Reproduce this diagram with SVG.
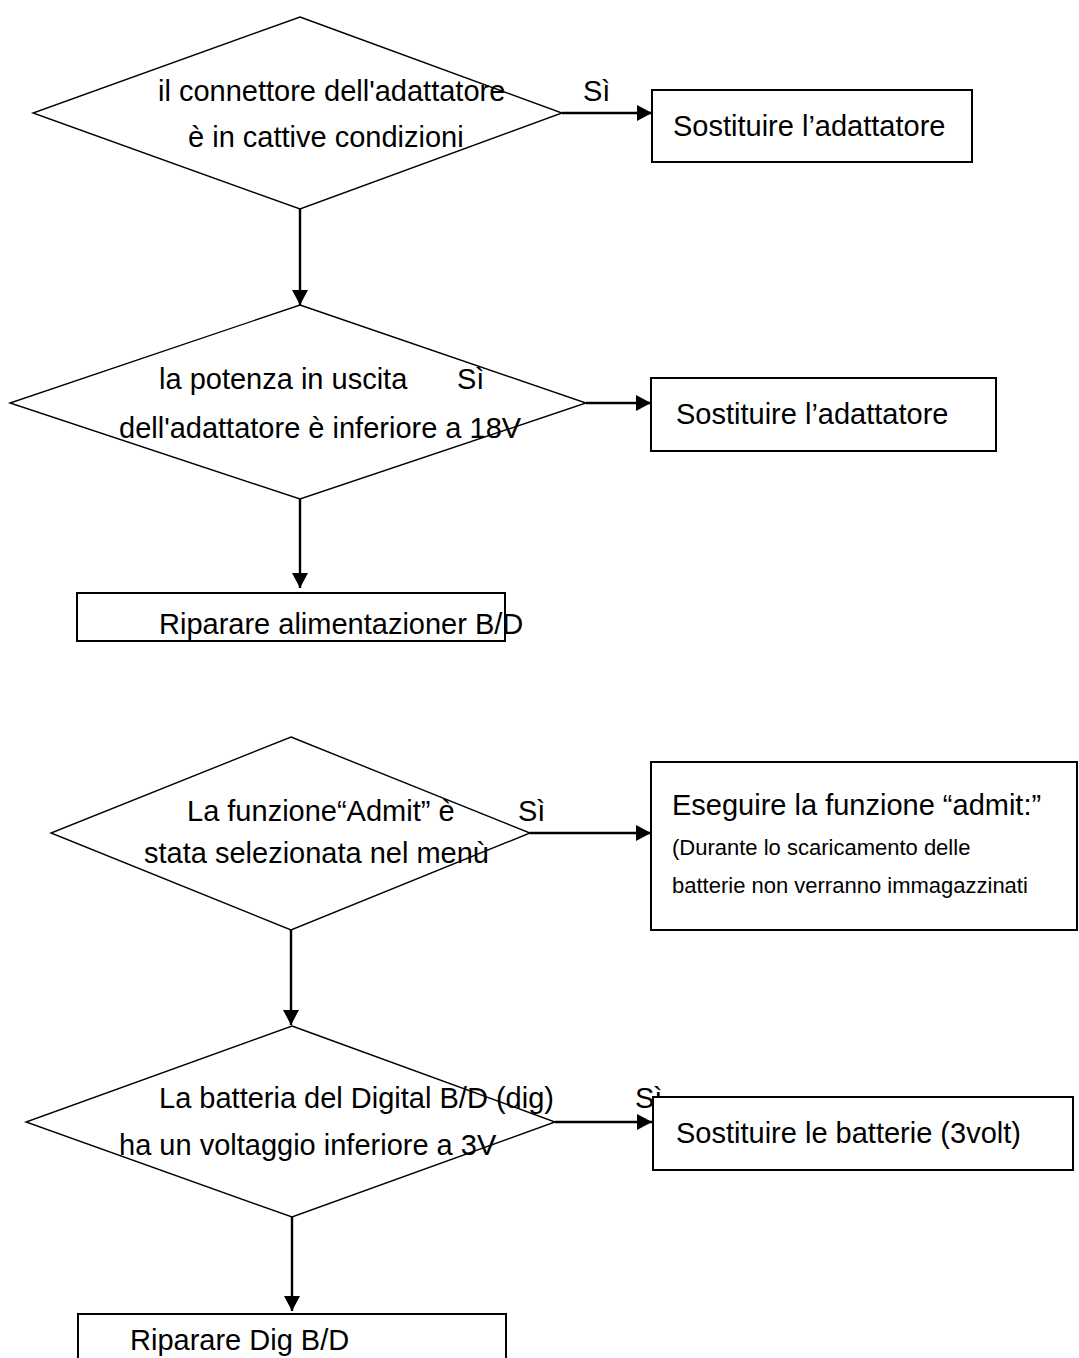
<svg xmlns="http://www.w3.org/2000/svg" width="1079" height="1358" viewBox="0 0 1079 1358">
<style>
  .dia { fill: none; stroke: #000; stroke-width: 1.4; }
  .box { fill: #fff; stroke: #000; stroke-width: 2; }
  .t { font-family: "Liberation Sans", Arial, sans-serif; font-size: 29px; fill: #000; }
  .s { font-family: "Liberation Sans", Arial, sans-serif; font-size: 22px; fill: #000; }
  .c { fill: none; stroke: #000; stroke-width: 2.4; marker-end: url(#ah); }
</style>
<defs>
  <marker id="ah" markerUnits="userSpaceOnUse" markerWidth="15" markerHeight="16" refX="15" refY="8" orient="auto">
    <path d="M0,0 L15,8 L0,16 z" fill="#000"/>
  </marker>
</defs>
<rect width="1079" height="1358" fill="#fff"/>

<g id="connectors">
  <line class="c" x1="300" y1="209" x2="300" y2="305"/>
  <line class="c" x1="562" y1="113" x2="652" y2="113"/>
  <line class="c" x1="300" y1="499" x2="300" y2="588"/>
  <line class="c" x1="586" y1="403" x2="651" y2="403"/>
  <line class="c" x1="291" y1="930" x2="291" y2="1025"/>
  <line class="c" x1="530" y1="833" x2="651" y2="833"/>
  <line class="c" x1="292" y1="1217" x2="292" y2="1311"/>
  <line class="c" x1="555" y1="1122" x2="652" y2="1122"/>
</g>

<g id="d1">
  <polygon class="dia" points="300,17 562,113 300,209 33,113"/>
  <text class="t" x="158" y="101">il connettore dell'adattatore</text>
  <text class="t" x="188" y="147">è in cattive condizioni</text>
  <text class="t" x="583" y="101">Sì</text>
</g>
<g id="b1">
  <rect class="box" x="652" y="90" width="320" height="72"/>
  <text class="t" x="673" y="136">Sostituire l’adattatore</text>
</g>

<g id="d2">
  <polygon class="dia" points="300,305 586,403 300,499 10,403"/>
  <text class="t" x="159" y="389">la potenza in uscita</text>
  <text class="t" x="457" y="389">Sì</text>
  <text class="t" x="119" y="438">dell'adattatore è inferiore a 18V</text>
</g>
<g id="b2">
  <rect class="box" x="651" y="378" width="345" height="73"/>
  <text class="t" x="676" y="424">Sostituire l’adattatore</text>
</g>
<g id="b3">
  <rect class="box" x="77" y="593" width="428" height="48"/>
  <text class="t" x="159" y="634">Riparare alimentazioner B/D</text>
</g>

<g id="d3">
  <polygon class="dia" points="291,737 530,833 291,930 51,833"/>
  <text class="t" x="187" y="821">La funzione“Admit” è</text>
  <text class="t" x="518" y="821">Sì</text>
  <text class="t" x="144" y="863">stata selezionata nel menù</text>
</g>
<g id="b4">
  <rect class="box" x="651" y="762" width="426" height="168"/>
  <text class="t" x="672" y="815">Eseguire la funzione “admit:”</text>
  <text class="s" x="672" y="855">(Durante lo scaricamento delle</text>
  <text class="s" x="672" y="893">batterie non verranno immagazzinati</text>
</g>

<g id="d4">
  <polygon class="dia" points="292,1026 555,1122 292,1217 26,1122"/>
  <text class="t" x="159" y="1108">La batteria del Digital B/D (dig)</text>
  <text class="t" x="635" y="1108">Sì</text>
  <text class="t" x="119" y="1155">ha un voltaggio inferiore a 3V</text>
</g>
<g id="b5">
  <rect class="box" x="653" y="1097" width="420" height="73"/>
  <text class="t" x="676" y="1143">Sostituire le batterie (3volt)</text>
</g>
<g id="b6">
  <rect class="box" x="78" y="1314" width="428" height="60"/>
  <text class="t" x="130" y="1350">Riparare Dig B/D</text>
</g>
</svg>
